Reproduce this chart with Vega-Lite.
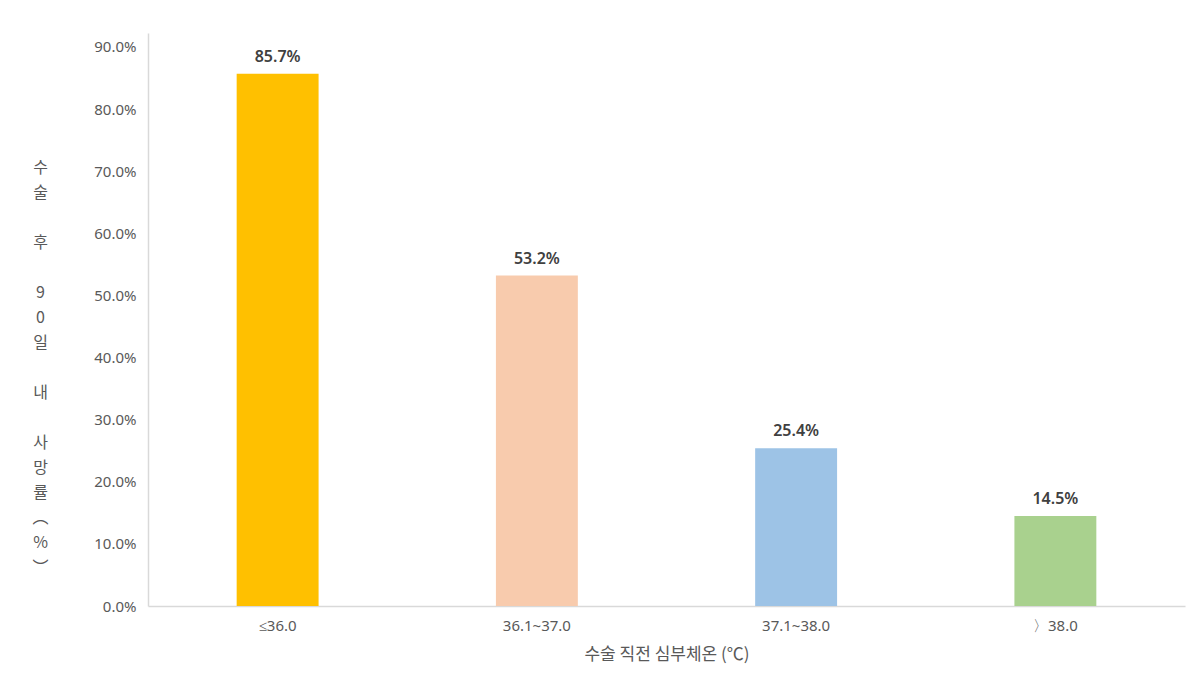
{
  "$schema": "https://vega.github.io/schema/vega-lite/v6.json",
  "autosize": {"type": "none"},
  "padding": {"left": 148, "top": 33, "right": 15, "bottom": 89},
  "width": 1037,
  "height": 573,
  "background": "white",
  "config": {"view": {"stroke": null}, "font": "Noto Sans CJK KR"},
  "data": {
    "values": [
      {"temp": "≤36.0", "rate": 0.857},
      {"temp": "36.1~37.0", "rate": 0.532},
      {"temp": "37.1~38.0", "rate": 0.254},
      {"temp": "〉38.0", "rate": 0.145}
    ]
  },
  "encoding": {
    "x": {
      "field": "temp", "type": "nominal", "sort": null,
      "scale": {"paddingInner": 0.684, "paddingOuter": 0.342},
      "axis": {
        "title": "수술 직전 심부체온 (℃)", "labelAngle": 0, "ticks": false,
        "labelFont": "Noto Sans", "labelFontSize": 15, "labelColor": "#595959", "labelPadding": 12,
        "titleFont": "Noto Sans CJK KR", "titleFontSize": 17, "titleFontWeight": "normal", "titleColor": "#595959", "titlePadding": 13,
        "domainColor": "#D9D9D9", "domainWidth": 1.5
      }
    },
    "y": {
      "field": "rate", "type": "quantitative",
      "scale": {"domain": [0, 0.9225], "nice": false},
      "axis": {
        "values": [0, 0.1, 0.2, 0.3, 0.4, 0.5, 0.6, 0.7, 0.8, 0.9],
        "format": ".1%", "grid": false, "ticks": false,
        "labelFont": "Noto Sans", "labelFontSize": 15, "labelColor": "#595959", "labelPadding": 12,
        "domainColor": "#D9D9D9", "domainWidth": 1.5,
        "title": ["수", "술", "\u2800", "후", "\u2800", "9", "0", "일", "\u2800", "내", "\u2800", "사", "망", "률", "︵", "%", "︶"],
        "titleAngle": 0, "titleAlign": "center", "titleBaseline": "top",
        "titleX": -108, "titleY": 126, "titleLineHeight": 25,
        "titleFont": "Noto Sans CJK KR", "titleFontSize": 16, "titleFontWeight": "normal", "titleColor": "#595959"
      }
    }
  },
  "layer": [
    {
      "mark": {"type": "bar"},
      "encoding": {
        "color": {
          "field": "temp", "type": "nominal", "sort": null, "legend": null,
          "scale": {"domain": ["≤36.0", "36.1~37.0", "37.1~38.0", "〉38.0"], "range": ["#FFC000", "#F8CBAD", "#9DC3E6", "#A9D18E"]}
        }
      }
    },
    {
      "mark": {"type": "text", "baseline": "bottom", "dy": -9, "font": "Noto Sans", "fontSize": 16, "fontWeight": 600, "color": "#404040"},
      "encoding": {"text": {"field": "rate", "type": "quantitative", "format": ".1%"}}
    }
  ]
}
